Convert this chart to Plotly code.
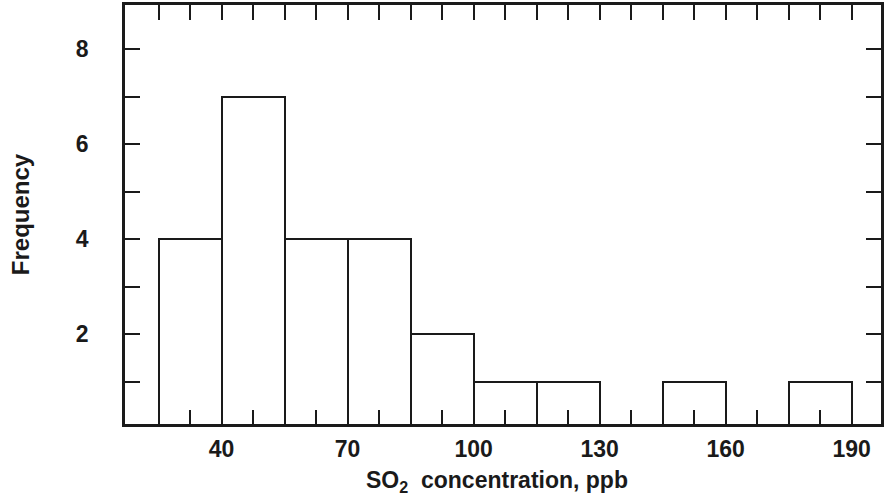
import plotly.graph_objects as go

bin_edges = [25, 40, 55, 70, 85, 100, 115, 130, 145, 160, 175, 190]
frequencies = [4, 7, 4, 4, 2, 1, 1, 0, 1, 0, 1]
x_tick_vals = [40, 70, 100, 130, 160, 190]
y_tick_vals = [1, 2, 3, 4, 5, 6, 7, 8]
y_tick_text = ["", "2", "", "4", "", "6", "", "8"]
x_title = "SO<sub>2</sub>  concentration, ppb"
y_title = "Frequency"

bin_width = bin_edges[1] - bin_edges[0]
centers = [(a + b) / 2 for a, b in zip(bin_edges[:-1], bin_edges[1:])]
top_ticks = sorted(set(bin_edges + centers))

FONT = "Liberation Sans, Arial, sans-serif"
BLACK = "#1a1a1a"

fig = go.Figure()
fig.add_trace(go.Bar(
    x=centers, y=frequencies, width=bin_width,
    marker=dict(color="white", line=dict(color=BLACK, width=2)),
    showlegend=False, hoverinfo="x+y",
))
fig.add_trace(go.Scatter(
    x=centers, y=frequencies, xaxis="x2", mode="none",
    showlegend=False, hoverinfo="skip",
))

fig.update_layout(
    width=884, height=495,
    margin=dict(l=125, r=3, t=5, b=71, autoexpand=False),
    plot_bgcolor="white", paper_bgcolor="white",
    font=dict(family=FONT, color=BLACK),
    bargap=0,
    xaxis=dict(
        range=[17, 197], automargin=False,
        tickmode="array", tickvals=x_tick_vals,
        ticks="", ticklabelstandoff=3,
        tickfont=dict(size=23, family=FONT, weight="bold"),
        showline=True, linecolor=BLACK, linewidth=2.5, mirror=True,
        showgrid=False, zeroline=False,
        minor=dict(tickmode="array", tickvals=centers, ticks="inside",
                   ticklen=14, tickwidth=2, tickcolor=BLACK, showgrid=False),
    ),
    xaxis2=dict(
        overlaying="x", side="top", matches="x", range=[17, 197],
        automargin=False,
        tickmode="array", tickvals=top_ticks, ticks="inside",
        ticklen=15, tickwidth=2, tickcolor=BLACK,
        showticklabels=False, showline=False, showgrid=False, zeroline=False,
    ),
    yaxis=dict(
        range=[0.11, 8.93], automargin=False,
        tickmode="array", tickvals=y_tick_vals, ticktext=y_tick_text,
        ticks="inside", ticklen=15, tickwidth=2, tickcolor=BLACK,
        ticklabelstandoff=29,
        tickfont=dict(size=23, family=FONT, weight="bold"),
        showline=True, linecolor=BLACK, linewidth=2.5, mirror="ticks",
        showgrid=False, zeroline=False,
        title=dict(text=y_title,
                   font=dict(size=24, family=FONT, weight="bold"), standoff=40),
    ),
    annotations=[dict(
        text=x_title, xref="paper", yref="paper", x=0.492, y=0,
        xanchor="center", yanchor="top", yshift=-41, showarrow=False,
        font=dict(size=23, family=FONT, weight="bold", color=BLACK),
    )],
)

fig.write_html("out.html", config={"displayModeBar": False},
               post_script="document.body.style.margin='0';")
